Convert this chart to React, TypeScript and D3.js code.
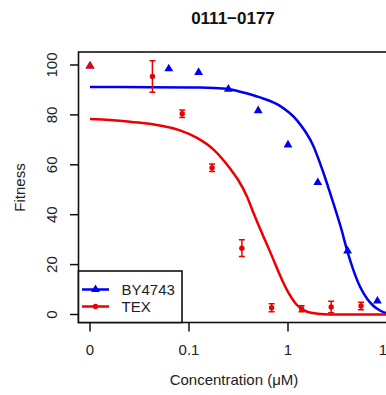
import React from "react";
import * as d3 from "d3";

// ---- data ----
const title = "0111\u22120177";
const xTickValues = [0, 0.1, 1, 10];
const xTickLabels = ["0", "0.1", "1", "10"];
const yTickValues = [0, 20, 40, 60, 80, 100];
const seriesNames = ["BY4743", "TEX"];

// BY4743 measured points
const byConc = [0, 0.0625, 0.125, 0.25, 0.5, 1, 2, 4, 8];
const byFit = [100, 98.9, 97.4, 90.7, 82.1, 68.4, 53.3, 25.9, 5.8];

// TEX measured points (mean ± error)
const texConc = [0, 0.0427, 0.0854, 0.171, 0.342, 0.683, 1.37, 2.73, 5.47];
const texFit = [100, 95.4, 80.5, 58.8, 26.6, 2.7, 2.3, 3.0, 3.4];
const texErr = [0, 6.3, 1.5, 1.5, 3.4, 1.6, 1.2, 2.3, 1.5];

// fitted curves
const byCurveConc = [0.01, 0.0404, 0.129, 0.242, 0.327, 0.521, 0.83, 1.233, 1.79, 2.26, 2.85, 3.5, 3.94, 4.53, 5.33, 6.27, 7.22, 8.49, 9.77, 13.5];
const byCurveFit = [91.2, 91.1, 91.0, 90.5, 89.3, 87.0, 83.6, 77.8, 67.8, 57.2, 45.0, 33.5, 25.9, 18.3, 11.2, 6.4, 3.6, 1.6, 0.6, 0.1];
const texCurveConc = [0.01, 0.0254, 0.0811, 0.1205, 0.175, 0.26, 0.313, 0.385, 0.443, 0.658, 0.977, 1.23, 1.56, 2.0, 2.66, 10, 13.5];
const texCurveFit = [78.4, 77.3, 73.8, 70.8, 66.3, 58.5, 54.0, 47.3, 41.2, 25.2, 9.8, 3.8, 1.1, 0.3, 0.0, 0.0, 0.0];

const ZERO_AT = 0.01; // where concentration 0 is drawn on the log axis

const BLUE = "#0000ee";
const RED = "#ee0000";
const FONT = "'Liberation Sans', Arial, Helvetica, sans-serif";

export default function App() {
  const W = 386, H = 395;
  const plotL = 78.5, plotT = 52, plotB = 322.5, plotR = 400;

  const xs = d3.scaleLog().domain([0.01, 10]).range([90, 387]);
  const xp = (c: number) => xs(c === 0 ? ZERO_AT : c);
  const y = d3.scaleLinear().domain([0, 100]).range([314.5, 65]);

  const line = d3
    .line<[number, number]>()
    .x((d) => xp(d[0]))
    .y((d) => y(d[1]))
    .curve(d3.curveMonotoneX);

  const byCurve = line(byCurveConc.map((c, i) => [c, byCurveFit[i]]) as [number, number][]) || "";
  const texCurve = line(texCurveConc.map((c, i) => [c, texCurveFit[i]]) as [number, number][]) || "";

  const tri = d3.symbol().type(d3.symbolTriangle).size(34)() || "";

  const legX0 = 82, legX1 = 109, legMid = 95.5;
  const legY = [289.5, 306.5];

  return (
    <svg
      width={W}
      height={H}
      style={{ position: "absolute", left: 0, top: 0, background: "#fff" }}
      fontFamily={FONT}
    >
      <defs>
        <clipPath id="plotclip">
          <rect x={plotL} y={plotT} width={plotR - plotL} height={plotB - plotT} />
        </clipPath>
      </defs>
      <rect x={0} y={0} width={W} height={H} fill="#fff" />

      {/* title */}
      <text x={233} y={23.5} textAnchor="middle" fontSize={17} fontWeight="bold" fill="#111">
        {title}
      </text>

      {/* curves */}
      <g clipPath="url(#plotclip)">
        <path d={byCurve} fill="none" stroke={BLUE} strokeWidth={2.5} />
        <path d={texCurve} fill="none" stroke={RED} strokeWidth={2.5} />

        {/* BY4743 points */}
        {byConc.map((c, i) => (
          <path key={"b" + i} d={tri} transform={`translate(${xp(c)},${y(byFit[i]) + 1})`} fill={BLUE} />
        ))}

        {/* TEX points */}
        {texConc.map((c, i) =>
          c === 0 ? (
            <path key={"t" + i} d={tri} transform={`translate(${xp(c)},${y(texFit[i]) + 1})`} fill={RED} />
          ) : (
            <g key={"t" + i} stroke={RED} strokeWidth={1.5}>
              <line x1={xp(c)} x2={xp(c)} y1={y(texFit[i] - texErr[i])} y2={y(texFit[i] + texErr[i])} />
              <line x1={xp(c) - 3} x2={xp(c) + 3} y1={y(texFit[i] - texErr[i])} y2={y(texFit[i] - texErr[i])} />
              <line x1={xp(c) - 3} x2={xp(c) + 3} y1={y(texFit[i] + texErr[i])} y2={y(texFit[i] + texErr[i])} />
              <circle cx={xp(c)} cy={y(texFit[i])} r={2.7} fill={RED} stroke="none" />
            </g>
          )
        )}
      </g>

      {/* box */}
      <rect x={plotL} y={plotT} width={plotR - plotL} height={plotB - plotT} fill="none" stroke="#111" strokeWidth={1.6} />

      {/* y axis */}
      {yTickValues.map((v) => (
        <g key={"y" + v}>
          <line x1={70} x2={plotL} y1={y(v)} y2={y(v)} stroke="#111" strokeWidth={1.5} />
          <text
            transform={`translate(56.5,${y(v)}) rotate(-90)`}
            textAnchor="middle"
            fontSize={15}
            fill="#222"
          >
            {v}
          </text>
        </g>
      ))}
      <text transform={`translate(24.5,187.5) rotate(-90)`} textAnchor="middle" fontSize={15} fill="#222">
        Fitness
      </text>

      {/* x axis */}
      {xTickValues.map((v, i) => (
        <g key={"x" + i}>
          <line x1={xp(v)} x2={xp(v)} y1={plotB} y2={331.5} stroke="#111" strokeWidth={1.5} />
          <text x={xp(v)} y={355} textAnchor="middle" fontSize={15} fill="#222">
            {xTickLabels[i]}
          </text>
        </g>
      ))}
      <text x={234} y={385} textAnchor="middle" fontSize={15} fill="#222">
        Concentration ({"\u03bc"}M)
      </text>

      {/* legend */}
      <rect x={plotL} y={271} width={182 - plotL} height={plotB - 271} fill="#fff" stroke="#111" strokeWidth={1.6} />
      <line x1={legX0} x2={legX1} y1={legY[0]} y2={legY[0]} stroke={BLUE} strokeWidth={2.5} />
      <path d={tri} transform={`translate(${legMid},${legY[0]})`} fill={BLUE} />
      <text x={121.5} y={legY[0] + 5.3} fontSize={15} fill="#222">
        {seriesNames[0]}
      </text>
      <line x1={legX0} x2={legX1} y1={legY[1]} y2={legY[1]} stroke={RED} strokeWidth={2.5} />
      <circle cx={legMid} cy={legY[1]} r={2.7} fill={RED} />
      <text x={121.5} y={legY[1] + 5.3} fontSize={15} fill="#222">
        {seriesNames[1]}
      </text>
    </svg>
  );
}
